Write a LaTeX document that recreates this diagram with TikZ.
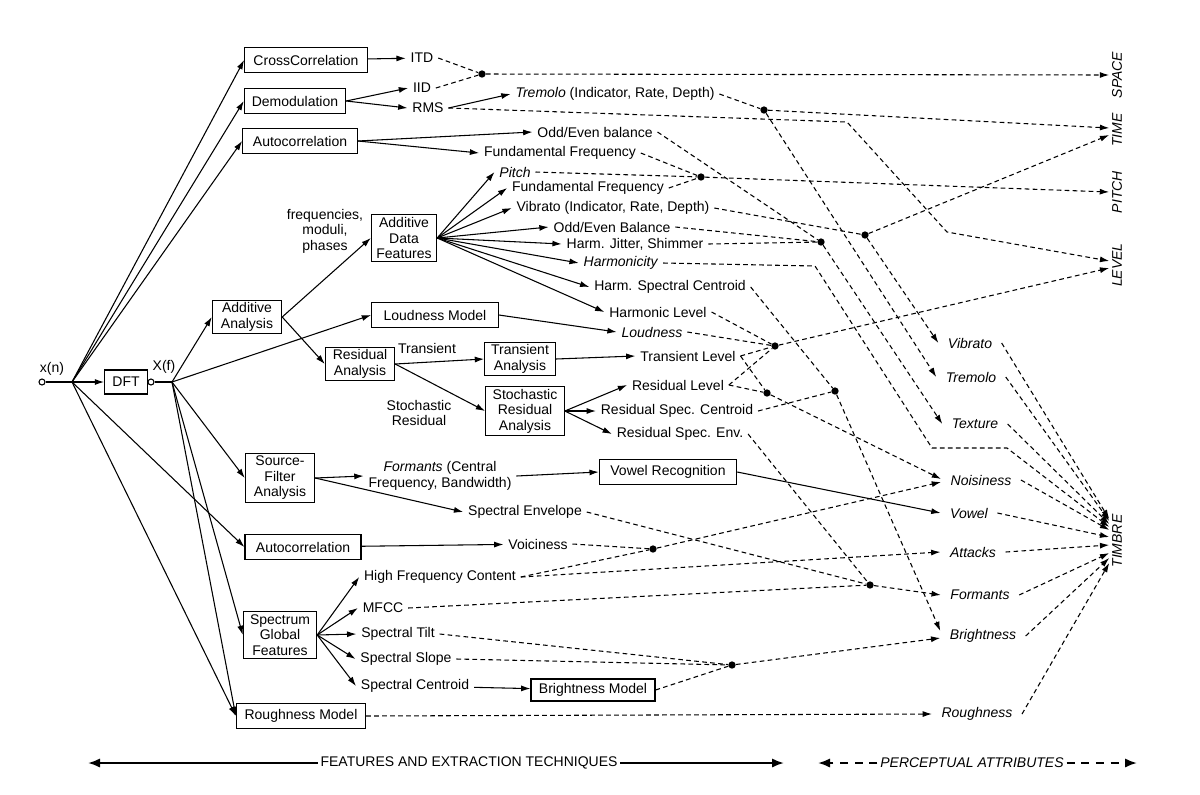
\documentclass[tikz,border=0pt]{standalone}
\usepackage{fontspec}
\setmainfont{Liberation Sans}
\usetikzlibrary{arrows.meta, positioning, calc}

\begin{document}
\fontsize{10.5}{11.6}\selectfont
\begin{tikzpicture}[
        x=0.75pt, y=-0.75pt,
        box/.style={draw, line width=0.8pt, align=center, inner xsep=3pt, inner ysep=2pt, minimum height=19pt},
        feat/.style={inner xsep=3.5pt, inner ysep=1pt, align=center},
        attr/.style={font=\itshape, inner xsep=7pt, inner ysep=1pt},
        dimlabel/.style={font=\itshape, rotate=90, inner sep=2pt},
        arrow/.style={-{Latex[length=7pt,width=4.5pt]}, line width=0.8pt},
        dasharrow/.style={arrow, dash pattern=on 3.5pt off 2.5pt},
        dashline/.style={line width=0.8pt, dash pattern=on 3.5pt off 2.5pt},
        bigarrow/.style={-{Latex[length=9pt,width=7pt]}, line width=1.6pt},
        junction/.style={circle, fill, inner sep=0pt, minimum size=5.5pt},
        port/.style={circle, draw, fill=white, inner sep=0pt, minimum size=4.5pt, line width=0.8pt}
    ]
        \useasboundingbox (0,0) rectangle (1200,794);

        % Input signal and DFT
        \node[port] (xin) at (42,382) {};
        \node[feat] (xlabel) at (52,369) {x(n)};
        \coordinate (xsplit) at (72,382);
        \node[box, minimum width=32pt, minimum height=18pt] (dft) at (126,382) {DFT};
        \node[port] (xfport) at (151,382) {};
        \node[feat] (xflabel) at (164,367) {X(f)};
        \coordinate (xfsplit) at (172,382);

        % Extraction blocks
        \node[box, minimum width=92pt] (xcorr) at (306,60) {CrossCorrelation};
        \node[box, minimum width=76pt] (demod) at (295,101) {Demodulation};
        \node[box, minimum width=86pt] (acorr) at (300,141) {Autocorrelation};
        \node[box, minimum width=52pt] (addan) at (247,317) {Additive\\Analysis};
        \node[box, minimum width=49pt] (addfeat) at (404,238) {Additive\\Data\\Features};
        \node[box, minimum width=95pt] (loudmod) at (435,315) {Loudness Model};
        \node[box, minimum width=52pt] (resan) at (360,364) {Residual\\Analysis};
        \node[box, minimum width=53pt] (transan) at (520,359) {Transient\\Analysis};
        \node[box, minimum width=59pt] (stochan) at (525,411) {Stochastic\\Residual\\Analysis};
        \node[box, minimum width=52pt] (srcfilt) at (280,478) {Source-\\Filter\\Analysis};
        \node[box, minimum width=103pt] (vowelrec) at (668,472) {Vowel Recognition};
        \node[box, minimum width=87pt] (acorrb) at (303,547) {Autocorrelation};
        \node[box, minimum width=55pt] (specglob) at (280,635) {Spectrum\\Global\\Features};
        \node[box, minimum width=93pt, minimum height=16.5pt] (brightmod) at (593,690) {Brightness Model};
        \node[box, minimum width=97pt] (roughmod) at (301,716) {Roughness Model};

        % Features
        \node[feat] (itd) at (422,58) {ITD};
        \node[feat] (iid) at (422,88) {IID};
        \node[feat] (rms) at (428,108) {RMS};
        \node[feat] (tremind) at (615,94) {\textit{Tremolo} (Indicator, Rate, Depth)};
        \node[feat] (oebal) at (595,132) {Odd/Even balance};
        \node[feat] (fund) at (560,153) {Fundamental Frequency};
        \node[feat] (pitchf) at (515,172) {\textit{Pitch}};
        \node[feat] (fundh) at (588,188) {Fundamental Frequency};
        \node[feat] (vibind) at (613,208) {Vibrato (Indicator, Rate, Depth)};
        \node[feat] (oebalh) at (612,227) {Odd/Even Balance};
        \node[feat] (jitter) at (635,244) {Harm. Jitter, Shimmer};
        \node[feat] (harmon) at (621,263) {\textit{Harmonicity}};
        \node[feat] (hcentr) at (670,287) {Harm. Spectral Centroid};
        \node[feat] (hlevel) at (658,312) {Harmonic Level};
        \node[feat] (loud) at (652,332) {\textit{Loudness}};
        \node[feat] (tlevel) at (688,356) {Transient Level};
        \node[feat] (rlevel) at (678,385) {Residual Level};
        \node[feat] (rcentr) at (677,411) {Residual Spec. Centroid};
        \node[feat] (renv) at (680,434) {Residual Spec. Env.};
        \node[feat] (formf) at (440,476) {\textit{Formants} (Central\\Frequency, Bandwidth)};
        \node[feat] (specenv) at (525,512) {Spectral Envelope};
        \node[feat] (voic) at (538,544) {Voiciness};
        \node[feat] (hfc) at (440,577) {High Frequency Content};
        \node[feat] (mfcc) at (383,608) {MFCC};
        \node[feat] (stilt) at (398,634) {Spectral Tilt};
        \node[feat] (sslope) at (406,659) {Spectral Slope};
        \node[feat] (scentr) at (415,686) {Spectral Centroid};

        % Edge labels
        \node[feat] (fmp) at (325,231) {frequencies,\\moduli,\\phases};
        \node[feat] (translbl) at (427,348) {Transient};
        \node[feat] (stochlbl) at (419,413) {Stochastic\\Residual};

        % Perceptual attributes
        \node[attr] (vibrato) at (970,343) {Vibrato};
        \node[attr] (tremolo) at (971,377) {Tremolo};
        \node[attr] (texture) at (975,424) {Texture};
        \node[attr] (noisiness) at (981,480) {Noisiness};
        \node[attr] (vowel) at (969,513) {Vowel};
        \node[attr] (attacks) at (973,552) {Attacks};
        \node[attr] (formants) at (980,595) {Formants};
        \node[attr] (brightness) at (983,636) {Brightness};
        \node[attr] (roughness) at (977,714) {Roughness};
        \node[dimlabel] (space) at (1117,75) {SPACE};
        \node[dimlabel] (time) at (1117,130) {TIME};
        \node[dimlabel] (pitch) at (1117,192) {PITCH};
        \node[dimlabel] (level) at (1117,265) {LEVEL};
        \node[dimlabel] (timbre) at (1117,541) {TIMBRE};

        % Junctions and bends
        \node[junction] (jspace) at (482,74) {};
        \node[junction] (jtrem) at (764,110) {};
        \node[junction] (jpitch) at (701,177) {};
        \node[junction] (jvib) at (865,235) {};
        \node[junction] (jtext) at (821,242) {};
        \node[junction] (jlevel) at (775,346) {};
        \node[junction] (jnoise) at (767,393) {};
        \node[junction] (jbright) at (835,391) {};
        \node[junction] (jvoic) at (653,549) {};
        \node[junction] (jform) at (870,585) {};
        \node[junction] (jslope) at (732,665) {};
        \coordinate (rmsa) at (847,122);
        \coordinate (rmsb) at (947,232);
        \coordinate (harma) at (815,266);
        \coordinate (harmb) at (932,448);
        \coordinate (harmc) at (1007,448);

        % Signal flow
        \draw[line width=0.8pt] (xin) -- (xsplit);
        \draw[arrow] (xsplit) -- (dft);
        \foreach \tgt in {xcorr, demod, acorr, acorrb, roughmod}
            \draw[arrow] (xsplit) -- (\tgt.west);
        \draw[line width=0.8pt] (xfport) -- (xfsplit);
        \foreach \tgt in {addan, loudmod, srcfilt, specglob, roughmod}
            \draw[arrow] (xfsplit) -- (\tgt.west);

        \draw[arrow] (xcorr) -- (itd);
        \draw[arrow] (demod.east) -- (iid.west);
        \draw[arrow] (demod.east) -- (rms.west);
        \draw[arrow] (acorr.east) -- (oebal.west);
        \draw[arrow] (acorr.east) -- (fund.west);
        \draw[arrow] (rms.east) -- (tremind.west);
        \draw[arrow] (addan.east) -- (addfeat.west);
        \draw[arrow] (addan.east) -- (resan.west);
        \foreach \tgt in {pitchf, fundh, vibind, oebalh, jitter, harmon, hcentr, hlevel}
            \draw[arrow] (addfeat.east) -- (\tgt.west);
        \draw[arrow] (loudmod.east) -- (loud.west);
        \draw[arrow] (resan.east) -- (transan.west);
        \draw[arrow] (resan.east) -- (stochan.west);
        \draw[arrow] (transan.east) -- (tlevel.west);
        \foreach \tgt in {rlevel, rcentr, renv}
            \draw[arrow] (stochan.east) -- (\tgt.west);
        \draw[arrow] (srcfilt.east) -- (formf.west);
        \draw[arrow] (srcfilt.east) -- (specenv.west);
        \draw[arrow] (formf.east) -- (vowelrec.west);
        \draw[arrow] (vowelrec.east) -- (vowel.west);
        \draw[arrow] (acorrb) -- (voic);
        \foreach \tgt in {hfc, mfcc, stilt, sslope, scentr}
            \draw[arrow] (specglob.east) -- (\tgt.west);
        \draw[arrow] (scentr) -- (brightmod);

        % Features to perceptual attributes
        \draw[dashline] (itd.east) -- (jspace);
        \draw[dashline] (iid.east) -- (jspace);
        \draw[dasharrow] (jspace) -- (space.north);
        \draw[dashline] (tremind.east) -- (jtrem);
        \draw[dasharrow] (jtrem) -- ($(time.north)+(0,-2)$);
        \draw[dasharrow] (jtrem) -- (tremolo.west);
        \draw[dasharrow] (rms.east) -- (rmsa) -- (rmsb) -- ($(level.north)+(0,-4)$);
        \draw[dashline] (oebal.east) -- (jtext);
        \draw[dashline] (fund.east) -- (jpitch);
        \draw[dashline] (pitchf.east) -- (jpitch);
        \draw[dashline] (fundh.east) -- (jpitch);
        \draw[dasharrow] (jpitch) -- (pitch.north);
        \draw[dashline] (vibind.east) -- (jvib);
        \draw[dasharrow] (jvib) -- ($(time.north)+(0,5)$);
        \draw[dasharrow] (jvib) -- (vibrato.west);
        \draw[dashline] (oebalh.east) -- (jtext);
        \draw[dashline] (jitter.east) -- (jtext);
        \draw[dasharrow] (jtext) -- (texture.west);
        \draw[dasharrow] (harmon.east) -- (harma) -- (harmb) -- (harmc) -- ($(timbre.north)+(0,-14)$);
        \draw[dashline] (hcentr.east) -- (jbright);
        \draw[dashline] (hlevel.east) -- (jlevel);
        \draw[dashline] (loud.east) -- (jlevel);
        \draw[dashline] (tlevel.east) -- (jlevel);
        \draw[dashline] (tlevel.east) -- (jnoise);
        \draw[dashline] (rlevel.east) -- (jlevel);
        \draw[dashline] (rlevel.east) -- (jnoise);
        \draw[dasharrow] (jlevel) -- ($(level.north)+(0,3)$);
        \draw[dasharrow] (jnoise) -- ($(noisiness.west)+(0,-1)$);
        \draw[dashline] (rcentr.east) -- (jbright);
        \draw[dasharrow] (jbright) -- ($(brightness.west)+(0,-5)$);
        \draw[dashline] (renv.east) -- (jform);
        \draw[dashline] (specenv.east) -- (jform);
        \draw[dashline] (mfcc.east) -- (jform);
        \draw[dasharrow] (jform) -- (formants.west);
        \draw[dashline] (voic.east) -- (jvoic);
        \draw[dashline] (hfc.east) -- (jvoic);
        \draw[dasharrow] (hfc.east) -- (attacks.west);
        \draw[dasharrow] (jvoic) -- ($(noisiness.west)+(0,2)$);
        \draw[dashline] (stilt.east) -- (jslope);
        \draw[dashline] (sslope.east) -- (jslope);
        \draw[dashline] (brightmod.east) -- (jslope);
        \draw[dasharrow] (jslope) -- ($(brightness.west)+(0,2)$);
        \draw[dasharrow] (roughmod.east) -- (roughness.west);

        % Attributes into timbre
        \draw[dasharrow] (vibrato.east) -- ($(timbre.north)+(0,-22)$);
        \draw[dasharrow] (tremolo.east) -- ($(timbre.north)+(0,-20)$);
        \draw[dasharrow] (texture.east) -- ($(timbre.north)+(0,-17)$);
        \draw[dasharrow] (noisiness.east) -- ($(timbre.north)+(0,-11)$);
        \draw[dasharrow] (vowel.east) -- ($(timbre.north)+(0,-4)$);
        \draw[dasharrow] (attacks.east) -- ($(timbre.north)+(0,4)$);
        \draw[dasharrow] (formants.east) -- ($(timbre.north)+(0,12)$);
        \draw[dasharrow] (brightness.east) -- ($(timbre.north)+(0,17)$);
        \draw[dasharrow] (roughness.east) -- ($(timbre.north)+(0,22)$);

        % Legend
        \node[inner sep=2pt] (featlbl) at (469,763) {FEATURES AND EXTRACTION TECHNIQUES};
        \coordinate (featl) at (88,763);
        \coordinate (featr) at (784,763);
        \draw[bigarrow] (featlbl.west) -- (featl);
        \draw[bigarrow] (featlbl.east) -- (featr);
        \node[font=\itshape, inner sep=2pt] (perclbl) at (972,763) {PERCEPTUAL ATTRIBUTES};
        \coordinate (percl) at (818,763);
        \coordinate (percr) at (1137,763);
        \draw[bigarrow, dash pattern=on 6pt off 5pt] (perclbl.west) -- (percl);
        \draw[bigarrow, dash pattern=on 6pt off 5pt] (perclbl.east) -- (percr);
    \end{tikzpicture}
\end{document}
